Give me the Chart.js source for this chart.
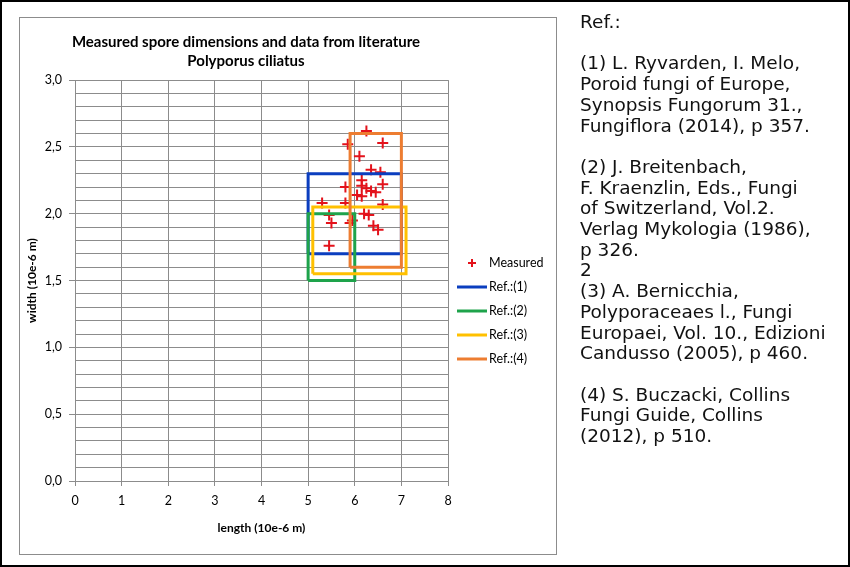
<!DOCTYPE html>
<html>
<head>
<meta charset="utf-8">
<script src="https://cdn.jsdelivr.net/npm/chart.js@4"></script>
<style>
  body { margin: 0; background: #fff; }
  #page { position: relative; width: 850px; height: 567px; box-sizing: border-box; border: 2px solid #000; overflow: hidden; }
  #box { position: absolute; left: 17px; top: 15px; width: 536px; height: 536px; border: 1px solid #8c8c8c; }
  #myChart { position: absolute; left: -2px; top: -2px; }
  #refs { position: absolute; left: 578px; top: 10px; font-family: "DejaVu Sans", sans-serif; font-size: 18.5px; line-height: 20.7px; color: #111; white-space: pre; }
</style>
</head>
<body>
<div id="page">
  <div id="box"></div>
  <canvas id="myChart" width="850" height="567"></canvas>
  <div id="refs"></div>
</div>
<script>
// measured spores (10e-6 m)
const measuredLength = [6.25, 5.85, 6.60, 6.10, 6.35, 6.55, 5.80, 6.15, 6.15, 6.25, 6.35, 6.45, 6.60, 6.05,
  6.15, 5.80, 5.30, 6.60, 6.20, 6.30, 5.95, 6.40, 6.50, 5.45, 5.50, 5.45, 5.90];
const measuredWidth = [2.62, 2.52, 2.53, 2.43, 2.33, 2.31, 2.20, 2.25, 2.21, 2.19, 2.17, 2.16, 2.22, 2.14,
  2.13, 2.08, 2.08, 2.07, 2.00, 1.99, 1.95, 1.91, 1.88, 1.99, 1.93, 1.76, 1.93];

// literature ranges: [min length, max length], [min width, max width]
const ref1Length = [5.0, 7.0];
const ref1Width = [1.7, 2.3];
const ref2Length = [5.0, 6.0];
const ref2Width = [1.5, 2.0];
const ref3Length = [5.1, 7.1];
const ref3Width = [1.55, 2.05];
const ref4Length = [5.9, 7.0];
const ref4Width = [1.6, 2.6];

const seriesLabels = ["Measured", "Ref.:(1)", "Ref.:(2)", "Ref.:(3)", "Ref.:(4)"];
const yTickLabels = ["0,0", "0,5", "1,0", "1,5", "2,0", "2,5", "3,0"];
const xTickLabels = ["0", "1", "2", "3", "4", "5", "6", "7", "8"];

const refText = [
  "Ref.:", "",
  "(1) L. Ryvarden, I. Melo,", "Poroid fungi of Europe,", "Synopsis Fungorum 31.,", "Fungiflora (2014), p 357.", "",
  "(2) J. Breitenbach,", "F. Kraenzlin, Eds., Fungi", "of Switzerland, Vol.2.", "Verlag Mykologia (1986),", "p 326.", "2",
  "(3) A. Bernicchia,", "Polyporaceaes l., Fungi", "Europaei, Vol. 10., Edizioni", "Candusso (2005), p 460.", "",
  "(4) S. Buczacki, Collins", "Fungi Guide, Collins", "(2012), p 510."
];
document.getElementById("refs").textContent = refText.join("\n");

function box(len, wid) {
  return [
    { x: len[0], y: wid[0] }, { x: len[1], y: wid[0] },
    { x: len[1], y: wid[1] }, { x: len[0], y: wid[1] },
    { x: len[0], y: wid[0] }
  ];
}

function refSet(label, len, wid, color, order) {
  return {
    label: label,
    data: box(len, wid),
    showLine: true,
    borderColor: color,
    backgroundColor: color,
    borderWidth: 3,
    pointRadius: 0,
    fill: false,
    order: order,
  };
}

const gridGray = "#8c8c8c";

// legend drawn beside the plot, like the spreadsheet one
const sideLegend = {
  id: "sideLegend",
  afterDraw(chart) {
    const ctx = chart.ctx;
    ctx.save();
    ctx.font = "12.5px Lato";
    ctx.textBaseline = "middle";
    ctx.fillStyle = "#000";
    chart.data.datasets.forEach((ds, i) => {
      const y = 263 + i * 24;
      ctx.strokeStyle = ds.borderColor;
      ctx.beginPath();
      if (ds.showLine) {
        ctx.lineWidth = 3;
        ctx.moveTo(457, y);
        ctx.lineTo(487, y);
      } else {
        ctx.lineWidth = 2;
        ctx.moveTo(468, y); ctx.lineTo(476, y);
        ctx.moveTo(472, y - 4); ctx.lineTo(472, y + 4);
      }
      ctx.stroke();
      ctx.fillText(ds.label, 489, y);
    });
    ctx.restore();
  },
};

const data = {
  datasets: [
    {
      label: seriesLabels[0],
      data: measuredLength.map((v, i) => ({ x: v, y: measuredWidth[i] })),
      pointStyle: "cross",
      pointRadius: 5.5,
      pointBorderWidth: 2,
      borderColor: "#e3121b",
      backgroundColor: "#e3121b",
      showLine: false,
      order: 5,
    },
    refSet(seriesLabels[1], ref1Length, ref1Width, "#0b3ebf", 4),
    refSet(seriesLabels[2], ref2Length, ref2Width, "#1ea34b", 3),
    refSet(seriesLabels[3], ref3Length, ref3Width, "#ffc000", 2),
    refSet(seriesLabels[4], ref4Length, ref4Width, "#ed7d31", 1),
  ],
};

const config = {
  type: "scatter",
  data: data,
  plugins: [sideLegend],
  options: {
    responsive: false,
    animation: false,
    devicePixelRatio: 1,
    layout: { padding: { left: 44, right: 402, top: 17, bottom: 26 } },
    plugins: {
      legend: { display: false },
      tooltip: { enabled: false },
      title: {
        display: true,
        text: ["Measured spore dimensions and data from literature", "Polyporus ciliatus"],
        color: "#000",
        font: { family: "Lato", size: 15, weight: "bold", lineHeight: 1.27 },
        padding: { top: 15.5, bottom: 9.5 },
      },
    },
    scales: {
      x: {
        type: "linear",
        min: 0,
        max: 8,
        ticks: {
          stepSize: 1,
          color: "#000",
          font: { family: "Lato", size: 12.5 },
          padding: 7,
          maxRotation: 0,
          callback: (v) => xTickLabels[v],
        },
        grid: { color: gridGray, tickLength: 5, tickColor: gridGray },
        border: { color: gridGray },
        title: {
          display: true,
          text: "length (10e-6 m)",
          color: "#000",
          font: { family: "Lato", size: 12, weight: "bold" },
          padding: { top: 0, bottom: 6 },
        },
        afterFit: (scale) => { scale.height = 60; },
      },
      y: {
        type: "linear",
        min: 0,
        max: 3,
        ticks: {
          stepSize: 0.1,
          autoSkip: false,
          color: "#000",
          font: { family: "Lato", size: 12.5 },
          padding: 7,
          callback: (v) => {
            const k = Math.round(v * 2);
            return Math.abs(v * 2 - k) < 1e-6 ? yTickLabels[k] : "";
          },
        },
        grid: {
          color: gridGray,
          tickLength: 6,
          tickColor: (c) => {
            const v = c.tick ? c.tick.value : 0;
            return Math.abs(v * 2 - Math.round(v * 2)) < 1e-6 ? gridGray : "rgba(0,0,0,0)";
          },
        },
        border: { color: gridGray },
        title: {
          display: true,
          text: "width (10e-6 m)",
          color: "#000",
          font: { family: "Lato", size: 12, weight: "bold" },
          padding: { top: -19.2, bottom: 0 },
        },
        afterFit: (scale) => { scale.width = 31; },
      },
    },
  },
};

const myChart = new Chart(document.getElementById("myChart"), config);
</script>
</body>
</html>
